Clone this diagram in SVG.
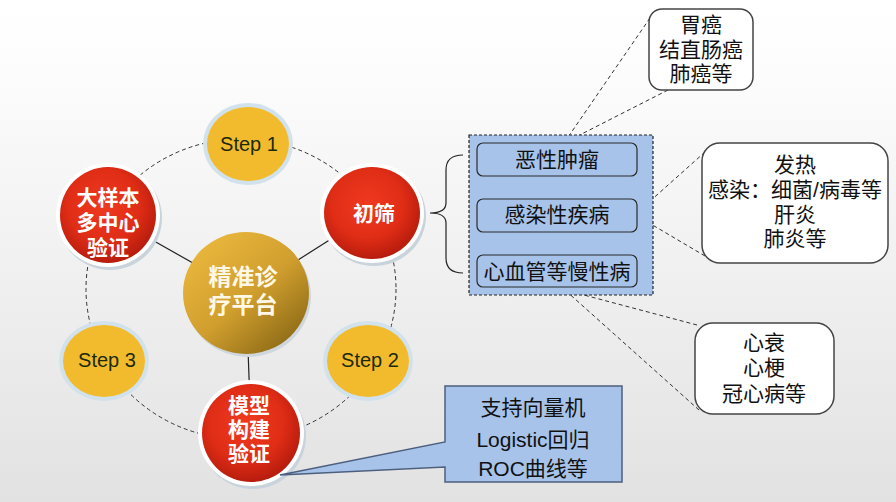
<svg xmlns="http://www.w3.org/2000/svg" width="896" height="502" viewBox="0 0 896 502">
<defs>
<linearGradient id="bg" x1="0" y1="0" x2="0" y2="1">
<stop offset="0" stop-color="#ffffff"/>
<stop offset="0.12" stop-color="#fdfdfd"/>
<stop offset="1" stop-color="#e2e2e2"/>
</linearGradient>
<radialGradient id="red" cx="0.45" cy="0.4" r="0.62">
<stop offset="0" stop-color="#ef3a1f"/>
<stop offset="0.6" stop-color="#e02d16"/>
<stop offset="1" stop-color="#b41b0d"/>
</radialGradient>
<linearGradient id="gold" x1="0.15" y1="0.1" x2="0.9" y2="0.95">
<stop offset="0" stop-color="#e9b63c"/>
<stop offset="0.5" stop-color="#d09e2e"/>
<stop offset="1" stop-color="#876614"/>
</linearGradient>
<style>
.conn{stroke:#222;stroke-width:1.2;fill:none}
.dash{stroke:#333;stroke-width:1;fill:none;stroke-dasharray:4 3}
.rim{fill:#ffffff}
.shadow{fill:#c9d3dc}
.redc{fill:url(#red)}
.steprim{fill:#d2e2ec}
.stepc{fill:#f1bb2d}
.steptxt{font-family:"Liberation Sans",Arial,sans-serif;font-size:20px;fill:#1c2a0c;text-anchor:middle}
.wtxt{font-family:"Liberation Sans","Noto Sans CJK SC",sans-serif;font-weight:bold;font-size:21px;fill:#ffffff;text-anchor:middle}
.ctxt{font-family:"Liberation Sans","Noto Sans CJK SC",sans-serif;font-weight:bold;font-size:23px;fill:#fff8e6;text-anchor:middle}
.txt{font-family:"Liberation Sans","Noto Sans CJK SC",sans-serif;font-size:21px;fill:#111;text-anchor:middle}
.ibox{fill:none;stroke:#2a2a2a;stroke-width:1.2}
.call{fill:#ffffff;stroke:#444;stroke-width:1.5}
</style>
</defs>
<rect width="896" height="502" fill="url(#bg)"/>

<g id="connectors">
<ellipse class="dash" cx="241" cy="289" rx="155" ry="150"/>
<line class="conn" x1="246" y1="293" x2="108" y2="215"/>
<line class="conn" x1="246" y1="293" x2="372" y2="213"/>
<line class="conn" x1="246" y1="293" x2="251" y2="433"/>
<path class="conn" d="M463,155 Q446,155 446,170 L446,203 Q446,213 430,213 Q446,213 446,223 L446,258 Q446,273 463,273"/>
<line class="dash" x1="650" y1="18" x2="564" y2="143"/>
<line class="dash" x1="668" y1="90" x2="564" y2="143"/>
<line class="dash" x1="705" y1="152" x2="639" y2="211"/>
<line class="dash" x1="705" y1="256" x2="639" y2="217"/>
<line class="dash" x1="697" y1="325" x2="565" y2="290"/>
<line class="dash" x1="699" y1="410" x2="565" y2="290"/>
</g>

<g id="step1">
<ellipse class="steprim" cx="248" cy="144" rx="45" ry="41"/>
<ellipse class="stepc" cx="248" cy="144" rx="41" ry="37"/>
<text class="steptxt" x="249" y="151">Step 1</text>
</g>
<g id="step2">
<ellipse class="steprim" cx="368" cy="361" rx="45" ry="40"/>
<ellipse class="stepc" cx="368" cy="361" rx="41" ry="36"/>
<text class="steptxt" x="370" y="367">Step 2</text>
</g>
<g id="step3">
<ellipse class="steprim" cx="104" cy="361" rx="45" ry="40"/>
<ellipse class="stepc" cx="104" cy="361" rx="41" ry="36"/>
<text class="steptxt" x="107" y="367">Step 3</text>
</g>

<g id="center">
<ellipse cx="248" cy="296" rx="63" ry="61" fill="#cfd6dc"/>
<ellipse cx="246" cy="293" rx="63" ry="61" fill="url(#gold)"/>
<text class="ctxt"><tspan x="243" y="285">精准诊</tspan><tspan x="243" y="313">疗平台</tspan></text>
</g>

<g id="chushai">
<ellipse class="shadow" cx="374" cy="216" rx="52" ry="50"/>
<ellipse class="rim" cx="372" cy="213" rx="52" ry="50"/>
<ellipse class="redc" cx="372" cy="213" rx="48" ry="46"/>
<text class="wtxt" x="374" y="221">初筛</text>
</g>
<g id="dayangben">
<ellipse class="shadow" cx="110" cy="218" rx="52" ry="52"/>
<ellipse class="rim" cx="108" cy="215" rx="52" ry="52"/>
<ellipse class="redc" cx="108" cy="215" rx="48" ry="48"/>
<text class="wtxt"><tspan x="108" y="205">大样本</tspan><tspan x="108" y="230">多中心</tspan><tspan x="108" y="255">验证</tspan></text>
</g>
<g id="moxing">
<ellipse class="shadow" cx="253" cy="436" rx="53" ry="53"/>
<ellipse class="rim" cx="251" cy="433" rx="53" ry="53"/>
<ellipse class="redc" cx="251" cy="433" rx="49" ry="49"/>
<text class="wtxt"><tspan x="249" y="413">模型</tspan><tspan x="249" y="437">构建</tspan><tspan x="249" y="461">验证</tspan></text>
</g>

<g id="diseases">
<rect x="469" y="135" width="184" height="160" fill="#a7c3ea" stroke="#222" stroke-width="1.2" stroke-dasharray="3 2"/>
<rect class="ibox" x="477" y="143" width="160" height="33" rx="6"/>
<rect class="ibox" x="477" y="199" width="160" height="33" rx="6"/>
<rect class="ibox" x="477" y="255" width="160" height="32" rx="6"/>
<text class="txt" x="557" y="167">恶性肿瘤</text>
<text class="txt" x="557" y="222">感染性疾病</text>
<text class="txt" x="557" y="279">心血管等慢性病</text>
</g>

<g id="cancer">
<rect class="call" x="649" y="9" width="104" height="81" rx="13"/>
<text class="txt"><tspan x="701" y="32">胃癌</tspan><tspan x="701" y="57">结直肠癌</tspan><tspan x="701" y="81">肺癌等</tspan></text>
</g>
<g id="infection">
<rect class="call" x="702" y="143" width="186" height="120" rx="18"/>
<text class="txt"><tspan x="795" y="172">发热</tspan><tspan x="795" y="197">感染：细菌/病毒等</tspan><tspan x="795" y="222">肝炎</tspan><tspan x="795" y="246">肺炎等</tspan></text>
</g>
<g id="cardio">
<rect class="call" x="695" y="323" width="139" height="91" rx="18"/>
<text class="txt"><tspan x="764" y="350">心衰</tspan><tspan x="764" y="375">心梗</tspan><tspan x="764" y="401">冠心病等</tspan></text>
</g>
<g id="methods">
<path d="M445,386 H622 V482 H445 V467 L280,475 L445,442 Z" fill="#a7c3ea" stroke="#4d5f7e" stroke-width="1.5"/>
<text class="txt"><tspan x="533" y="415">支持向量机</tspan><tspan x="533" y="447">Logistic回归</tspan><tspan x="533" y="476">ROC曲线等</tspan></text>
</g>
</svg>
